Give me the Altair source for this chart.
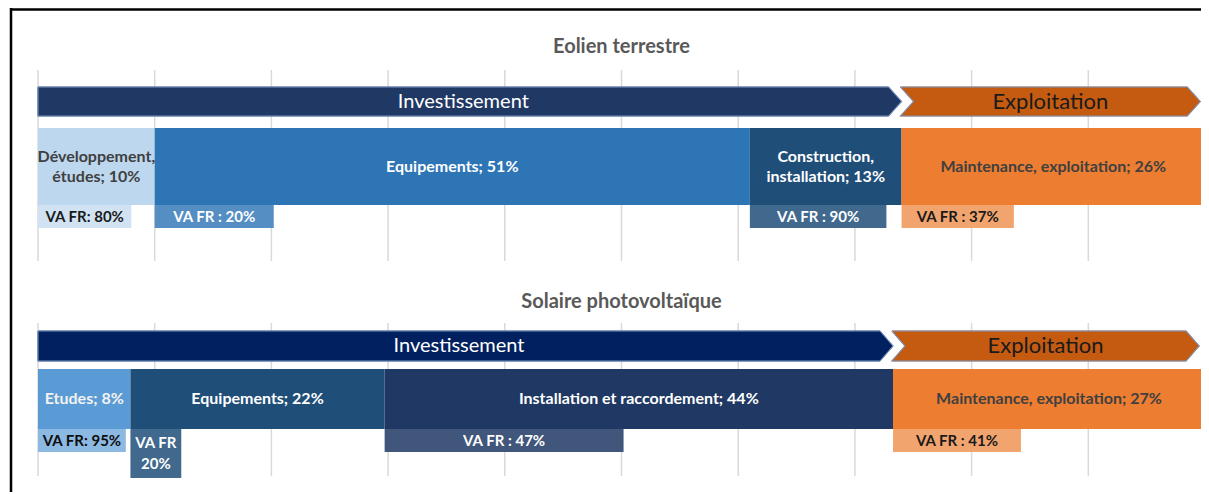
import altair as alt
import pandas as pd

# ------------------------------------------------------------------ data
panel_titles = ["Eolien terrestre", "Solaire photovoltaïque"]
phase_names = ["Investissement", "Exploitation"]

wind_segments = ["Développement, études", "Equipements",
                 "Construction, installation", "Maintenance, exploitation"]
wind_shares = [10, 51, 13, 26]
wind_va_fr = [80, 20, 90, 37]
wind_phase = ["Investissement", "Investissement", "Investissement", "Exploitation"]

solar_segments = ["Etudes", "Equipements",
                  "Installation et raccordement", "Maintenance, exploitation"]
solar_shares = [8, 22, 44, 27]
solar_va_fr = [95, 20, 47, 41]
solar_phase = ["Investissement", "Investissement", "Investissement", "Exploitation"]

grid_ticks = [0, 10, 20, 30, 40, 50, 60, 70, 80, 90, 100]

# ------------------------------------------------------------------ styles / layout
W, H = 1193, 484
X0, X1 = 30, 1197                 # pixel range for 0..100 %
PX = (X1 - X0) / 100.0
FONT = "Lato"
BAR_LH = 20
VA_LH = 21


def tint(hex_color, amount):
    h = hex_color.lstrip("#")
    r, g, b = (int(h[i:i + 2], 16) for i in (0, 2, 4))
    r, g, b = (round(c + (255 - c) * amount) for c in (r, g, b))
    return "#%02X%02X%02X" % (r, g, b)


panels = [
    dict(title=panel_titles[0], segs=wind_segments, shares=wind_shares, va=wind_va_fr,
         phase=wind_phase, title_y=39, grid=(62, 253), arrow=(79, 108), bar=(120, 197),
         fills=["#BDD7EE", "#2E75B6", "#1F4E79", "#ED7D31"],
         tints=[0.3, 0.18, 0.15, 0.3],
         texts=["#404040", "#FFFFFF", "#FFFFFF", "#404040"],
         va_texts=["#1A1A1A", "#FFFFFF", "#FFFFFF", "#1A1A1A"],
         invest_fill="#203864", exp_end=99.6),
    dict(title=panel_titles[1], segs=solar_segments, shares=solar_shares, va=solar_va_fr,
         phase=solar_phase, title_y=294, grid=(315, 468), arrow=(323, 353), bar=(361, 421),
         fills=["#5B9BD5", "#1F4E79", "#203864", "#ED7D31"],
         tints=[0.3, 0.15, 0.15, 0.3],
         texts=["#F2F2F2", "#FFFFFF", "#FFFFFF", "#404040"],
         va_texts=["#0D0D0D", "#FFFFFF", "#FFFFFF", "#1A1A1A"],
         invest_fill="#002060", exp_end=99.5),
]
EXPLOIT_FILL = "#C55A11"
OUTLINE = "#7896C0"
TIP = 13 / PX                       # arrow tip depth in % units

bars, va_boxes, titles, grids, areas, outlines, phase_labels = [], [], [], [], [], [], []

for p_i, p in enumerate(panels):
    total = float(sum(p["shares"]))
    titles.append(dict(x=50, y=p["title_y"], label=p["title"]))
    for t in grid_ticks:
        grids.append(dict(x=t, y=p["grid"][0], y2=p["grid"][1]))

    cum = 0.0
    invest_end = None
    for i, (seg, sh, va) in enumerate(zip(p["segs"], p["shares"], p["va"])):
        xs = cum / total * 100
        xe = (cum + sh) / total * 100
        cum += sh
        if p["phase"][i] == "Investissement":
            invest_end = xe
        label = f"{seg}; {sh}%"
        if len(label) * 8.2 > (xe - xs) * PX - 6:
            label = label.replace(", ", ",\n")
        n_lines = label.count("\n") + 1
        ym = (p["bar"][0] + p["bar"][1]) / 2 - (n_lines - 1) * BAR_LH / 2
        bars.append(dict(x=xs, x2=xe, y=p["bar"][0], y2=p["bar"][1],
                         xm=(xs + xe) / 2, ym=ym,
                         fill=p["fills"][i], tcol=p["texts"][i], label=label))
        vx2 = xs + (xe - xs) * va / 100.0
        sep = ":" if i == 0 else " :"
        vlabel = f"VA FR{sep} {va}%"
        if len(vlabel) * 7.6 > (vx2 - xs) * PX - 4:
            vlabel = f"VA FR\n{va}%"
        n_lines = vlabel.count("\n") + 1
        vy = p["bar"][1]
        vy2 = vy + 23 + 26 * (n_lines - 1)
        va_boxes.append(dict(x=xs, x2=vx2, y=vy, y2=vy2, xm=(xs + vx2) / 2,
                             ym=(vy + vy2) / 2 - (n_lines - 1) * VA_LH / 2,
                             fill=tint(p["fills"][i], p["tints"][i]),
                             tcol=p["va_texts"][i], label=vlabel))

    top, bot = p["arrow"]
    mid = (top + bot) / 2
    # Investissement arrow (flat tail, pointed head)
    b = invest_end
    pid = f"inv{p_i}"
    for x, y, y2 in [(0, top, bot), (b - TIP, top, bot), (b, mid, mid)]:
        areas.append(dict(piece=pid, x=x, y=y, y2=y2, fill=p["invest_fill"]))
    for k, (x, y) in enumerate([(0, top), (b - TIP, top), (b, mid), (b - TIP, bot), (0, bot), (0, top)]):
        outlines.append(dict(piece=pid, o=k, x=x, y=y))
    phase_labels.append(dict(x=(0 + b - TIP) / 2, y=mid, label=phase_names[0],
                             tcol="#FFFFFF", size=20))
    # Exploitation chevron (notched tail, pointed head)
    a = b - 0.1
    e = p["exp_end"]
    pid = f"exp{p_i}"
    for x, y, y2 in [(a, top, top), (a + TIP, top, mid), (e - TIP, top, mid), (e, mid, mid)]:
        areas.append(dict(piece=pid + "u", x=x, y=y, y2=y2, fill=EXPLOIT_FILL))
    for x, y, y2 in [(a, bot, bot), (a + TIP, mid, bot), (e - TIP, mid, bot), (e, mid, mid)]:
        areas.append(dict(piece=pid + "l", x=x, y=y, y2=y2, fill=EXPLOIT_FILL))
    for k, (x, y) in enumerate([(a, top), (e - TIP, top), (e, mid), (e - TIP, bot),
                                (a, bot), (a + TIP, mid), (a, top)]):
        outlines.append(dict(piece=pid, o=k, x=x, y=y))
    phase_labels.append(dict(x=(a + e) / 2, y=mid, label=phase_names[1],
                             tcol="#1A1A1A", size=22))

xs_ = alt.Scale(domain=[0, 100], range=[X0, X1], nice=False, zero=False)
ys_ = alt.Scale(domain=[0, H], range=[0, H], nice=False, zero=False)


def X(f="x"):
    return alt.X(f"{f}:Q", scale=xs_, axis=None)


def Y(f="y"):
    return alt.Y(f"{f}:Q", scale=ys_, axis=None)


grid_layer = alt.Chart(pd.DataFrame(grids)).mark_rule(color="#D9D9D9", strokeWidth=1.5).encode(
    x=X(), y=Y(), y2="y2:Q")

area_layer = alt.Chart(pd.DataFrame(areas)).mark_area(
    orient="vertical", interpolate="linear", strokeWidth=0.8).encode(
    x=X(), y=Y(), y2="y2:Q",
    color=alt.Color("fill:N", scale=None), stroke=alt.Stroke("fill:N", scale=None),
    detail="piece:N")

outline_layer = alt.Chart(pd.DataFrame(outlines)).mark_line(
    color=OUTLINE, strokeWidth=1.1, interpolate="linear").encode(
    x=X(), y=Y(), detail="piece:N", order="o:Q")

bar_layer = alt.Chart(pd.DataFrame(bars)).mark_rect().encode(
    x=X(), x2="x2:Q", y=Y(), y2="y2:Q", color=alt.Color("fill:N", scale=None))

va_layer = alt.Chart(pd.DataFrame(va_boxes)).mark_rect().encode(
    x=X(), x2="x2:Q", y=Y(), y2="y2:Q", color=alt.Color("fill:N", scale=None))

bar_text = alt.Chart(pd.DataFrame(bars)).mark_text(
    font=FONT, fontSize=16, fontWeight="bold", align="center", baseline="middle",
    lineBreak="\n", lineHeight=BAR_LH).encode(
    x=X("xm"), y=Y("ym"), text="label:N", color=alt.Color("tcol:N", scale=None))

va_text = alt.Chart(pd.DataFrame(va_boxes)).mark_text(
    font=FONT, fontSize=15, fontWeight="bold", align="center", baseline="middle",
    lineBreak="\n", lineHeight=VA_LH).encode(
    x=X("xm"), y=Y("ym"), text="label:N", color=alt.Color("tcol:N", scale=None))

title_text = alt.Chart(pd.DataFrame(titles)).mark_text(
    font=FONT, fontSize=20, fontWeight="bold", color="#595959", align="center",
    baseline="middle").encode(x=X(), y=Y(), text="label:N")

phase_text = alt.Chart(pd.DataFrame(phase_labels)).mark_text(
    font=FONT, align="center", baseline="middle").encode(
    x=X(), y=Y(), text="label:N", color=alt.Color("tcol:N", scale=None),
    size=alt.Size("size:Q", scale=None))

border_left = alt.Chart(pd.DataFrame({"k": [0]})).mark_rule(color="#000000", strokeWidth=2.5).encode(
    x=alt.value(3), y=alt.value(0), y2=alt.value(H))
border_top = alt.Chart(pd.DataFrame({"k": [0]})).mark_rule(color="#000000", strokeWidth=2.5).encode(
    x=alt.value(2), x2=alt.value(W), y=alt.value(1.5))

chart = alt.layer(
    grid_layer, area_layer, outline_layer, bar_layer, va_layer,
    bar_text, va_text, title_text, phase_text, border_left, border_top
).properties(
    width=W, height=H, padding=0, autosize=alt.AutoSizeParams(type="none"),
    background="white"
).configure_view(stroke=None)

chart.save("out.html", embed_options={"renderer": "svg", "actions": False})
